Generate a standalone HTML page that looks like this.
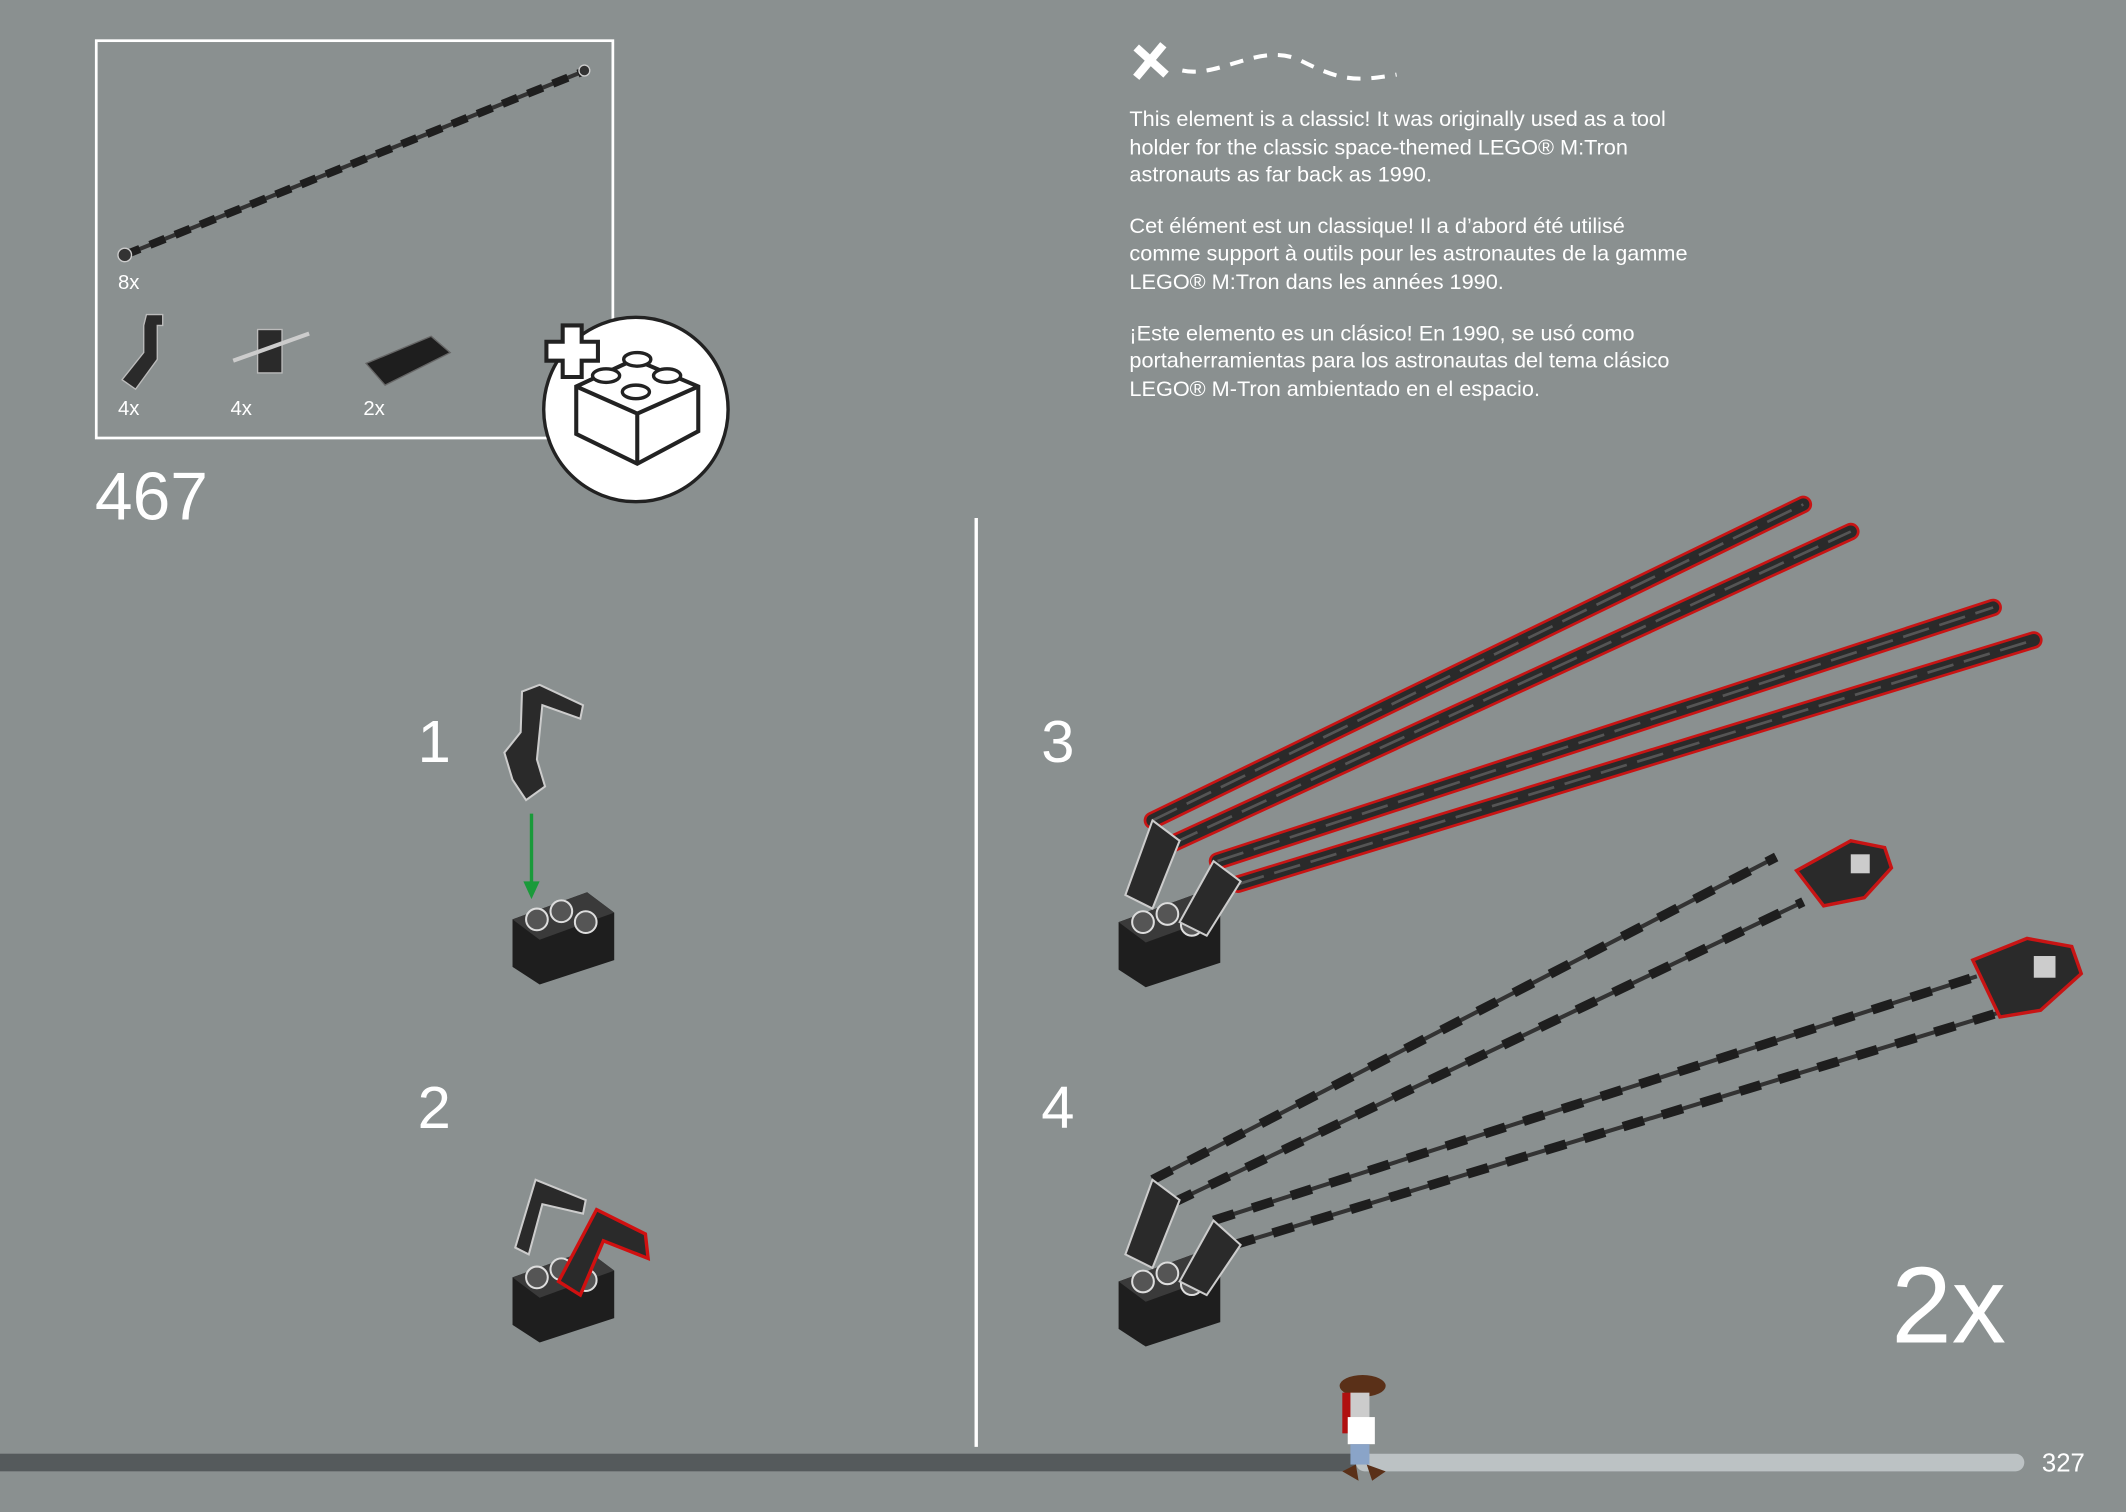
<!DOCTYPE html>
<html><head><meta charset="utf-8"><style>
html,body{margin:0;padding:0;background:#8a9090;}
svg{display:block;}
text{font-family:"Liberation Sans",sans-serif;}
</style></head><body>
<svg width="2126" height="1512" viewBox="0 0 1568 1115" preserveAspectRatio="none" xmlns="http://www.w3.org/2000/svg">
<rect width="1568" height="1115" fill="#8a9090"/>
<defs>
<g id="base">
  <path d="M0 30 L55 10 L75 25 L75 60 L20 78 L0 65 Z" fill="#1e1e1e"/>
  <path d="M0 30 L55 10 L75 25 L20 45 Z" fill="#3a3a3a"/>
  <circle cx="18" cy="30" r="8" fill="#555" stroke="#ddd" stroke-width="1.5"/>
  <circle cx="36" cy="24" r="8" fill="#555" stroke="#ddd" stroke-width="1.5"/>
  <circle cx="54" cy="32" r="8" fill="#555" stroke="#ddd" stroke-width="1.5"/>
</g>
</defs>

<!-- parts box -->
<rect x="71" y="30" width="381" height="293" fill="none" stroke="#fff" stroke-width="2"/>
<line x1="92" y1="188" x2="432" y2="52" stroke="#333" stroke-width="3"/>
<line x1="92" y1="188" x2="432" y2="52" stroke="#1e1e1e" stroke-width="6" stroke-dasharray="12 8"/>
<circle cx="92" cy="188" r="5" fill="#333" stroke="#ccc"/>
<circle cx="431" cy="52" r="4" fill="#333" stroke="#ccc"/>
<text x="87" y="213" fill="#fff" font-size="15">8x</text>
<text x="87" y="306" fill="#fff" font-size="15">4x</text>
<text x="170" y="306" fill="#fff" font-size="15">4x</text>
<text x="268" y="306" fill="#fff" font-size="15">2x</text>
<path d="M108 232 L120 232 L120 240 L116 240 L116 265 L100 287 L90 280 L106 260 L106 240 Z" fill="#2a2a2a" stroke="#bbb" stroke-width="1"/>
<rect x="190" y="243" width="18" height="32" fill="#2a2a2a" stroke="#bbb" stroke-width="1"/>
<line x1="172" y1="266" x2="228" y2="246" stroke="#ccc" stroke-width="3"/>
<path d="M270 268 L318 248 L332 260 L284 284 Z" fill="#1e1e1e" stroke="#666"/>
<text x="70" y="383" fill="#fff" font-size="50">467</text>

<!-- plus circle -->
<circle cx="469" cy="302" r="68" fill="#fff" stroke="#222" stroke-width="2.5"/>
<path d="M415 240 h14 v12 h12 v14 h-12 v12 h-14 v-12 h-12 v-14 h12 Z" fill="#fff" stroke="#222" stroke-width="3"/>
<path d="M425 285 L468 265 L515 285 L515 318 L470 342 L425 320 Z" fill="#fff" stroke="#222" stroke-width="3"/>
<path d="M425 285 L470 305 L515 285 M470 305 L470 342" fill="none" stroke="#222" stroke-width="3"/>
<g fill="#fff" stroke="#222" stroke-width="2.5">
<ellipse cx="470" cy="265" rx="10" ry="5"/><ellipse cx="447" cy="277" rx="10" ry="5"/>
<ellipse cx="492" cy="277" rx="10" ry="5"/><ellipse cx="469" cy="289" rx="10" ry="5"/>
</g>

<!-- description -->
<path d="M838 35 L860 55 M858 33 L838 57" stroke="#fff" stroke-width="6"/>
<path d="M872 52 C900 58 930 30 960 45 S1000 60 1030 55" fill="none" stroke="#fff" stroke-width="3" stroke-dasharray="10 8"/>
<g fill="#fff" font-size="16">
<text x="833" y="93">This element is a classic! It was originally used as a tool</text>
<text x="833" y="114">holder for the classic space-themed LEGO® M:Tron</text>
<text x="833" y="134">astronauts as far back as 1990.</text>
<text x="833" y="172">Cet élément est un classique! Il a d’abord été utilisé</text>
<text x="833" y="192">comme support à outils pour les astronautes de la gamme</text>
<text x="833" y="213">LEGO® M:Tron dans les années 1990.</text>
<text x="833" y="251">¡Este elemento es un clásico! En 1990, se usó como</text>
<text x="833" y="271">portaherramientas para los astronautas del tema clásico</text>
<text x="833" y="292">LEGO® M-Tron ambientado en el espacio.</text>
</g>

<line x1="720" y1="382" x2="720" y2="1067" stroke="#fff" stroke-width="2.5"/>

<!-- step numbers -->
<g fill="#fff" font-size="44">
<text x="308" y="562">1</text><text x="308" y="832">2</text>
<text x="768" y="562">3</text><text x="768" y="832">4</text>
</g>
<text x="1395" y="990" fill="#fff" font-size="80">2x</text>

<!-- step 1 -->
<path d="M385 510 L398 505 L430 520 L428 530 L400 520 L396 560 L402 580 L388 590 L378 575 L372 555 L384 540 Z" fill="#2a2a2a" stroke="#ccc" stroke-width="1.5"/>
<line x1="392" y1="600" x2="392" y2="655" stroke="#1a9a3a" stroke-width="2.5"/>
<path d="M386 650 L392 663 L398 650 Z" fill="#1a9a3a"/>
<use href="#base" x="378" y="648"/>

<!-- step 2 -->
<use href="#base" x="378" y="912"/>
<path d="M380 920 L395 870 L432 885 L430 895 L400 888 L390 925 Z" fill="#2a2a2a" stroke="#ccc" stroke-width="1.5"/>
<path d="M412 945 L440 892 L476 910 L478 928 L445 915 L428 955 Z" fill="#2a2a2a" stroke="#d01010" stroke-width="2.5"/>

<!-- step 3 -->
<use href="#base" x="825" y="650"/>
<g stroke-linecap="round">
<g stroke="#c81414" stroke-width="13">
<line x1="850" y1="605" x2="1330" y2="372"/><line x1="865" y1="622" x2="1365" y2="392"/>
<line x1="898" y1="635" x2="1470" y2="448"/><line x1="913" y1="652" x2="1500" y2="472"/>
</g>
<g stroke="#2a2a2a" stroke-width="9">
<line x1="850" y1="605" x2="1330" y2="372"/><line x1="865" y1="622" x2="1365" y2="392"/>
<line x1="898" y1="635" x2="1470" y2="448"/><line x1="913" y1="652" x2="1500" y2="472"/>
</g>
<g stroke="#555" stroke-width="2" stroke-dasharray="20 8" stroke-linecap="butt">
<line x1="850" y1="605" x2="1330" y2="372"/><line x1="865" y1="622" x2="1365" y2="392"/>
<line x1="898" y1="635" x2="1470" y2="448"/><line x1="913" y1="652" x2="1500" y2="472"/>
</g>
</g>
<path d="M830 660 L850 605 L870 620 L850 670 Z M870 680 L895 635 L915 650 L890 690 Z" fill="#2a2a2a" stroke="#ccc" stroke-width="1.5"/>

<!-- step 4 -->
<use href="#base" x="825" y="915"/>
<g stroke="#333" stroke-width="3">
<line x1="850" y1="870" x2="1310" y2="632"/><line x1="865" y1="887" x2="1330" y2="665"/>
<line x1="895" y1="900" x2="1458" y2="720"/><line x1="910" y1="918" x2="1480" y2="745"/>
</g>
<g stroke="#1e1e1e" stroke-width="7" stroke-dasharray="16 14">
<line x1="850" y1="870" x2="1310" y2="632"/><line x1="865" y1="887" x2="1330" y2="665"/>
<line x1="895" y1="900" x2="1458" y2="720"/><line x1="910" y1="918" x2="1480" y2="745"/>
</g>
<path d="M830 925 L850 870 L870 885 L850 935 Z M870 945 L895 900 L915 918 L890 955 Z" fill="#2a2a2a" stroke="#ccc" stroke-width="1.5"/>
<g fill="#2a2a2a" stroke="#c81414" stroke-width="2.5">
<path d="M1325 642 L1365 620 L1390 625 L1395 640 L1375 662 L1345 668 Z"/>
<path d="M1455 708 L1495 692 L1528 698 L1535 718 L1505 745 L1475 750 Z"/>
</g>
<g fill="#ccc"><rect x="1365" y="630" width="14" height="14"/><rect x="1500" y="705" width="16" height="16"/></g>

<!-- progress bar -->
<rect x="0" y="1072" width="1000" height="13" fill="#555a5c"/>
<rect x="1000" y="1072" width="493" height="13" rx="6.5" fill="#bcc2c4"/>
<text x="1506" y="1085" fill="#fff" font-size="19">327</text>
<!-- figure -->
<ellipse cx="1005" cy="1022" rx="17" ry="8" fill="#5a3018"/>
<rect x="990" y="1027" width="8" height="30" fill="#b01010"/>
<rect x="996" y="1027" width="14" height="25" fill="#ccc"/>
<rect x="994" y="1045" width="20" height="20" fill="#fff"/>
<rect x="996" y="1065" width="14" height="15" fill="#8aa4c8"/>
<path d="M990 1085 L1000 1080 L1002 1092 Z M1008 1080 L1022 1085 L1012 1092 Z" fill="#5a3018"/>
</svg>
</body></html>
